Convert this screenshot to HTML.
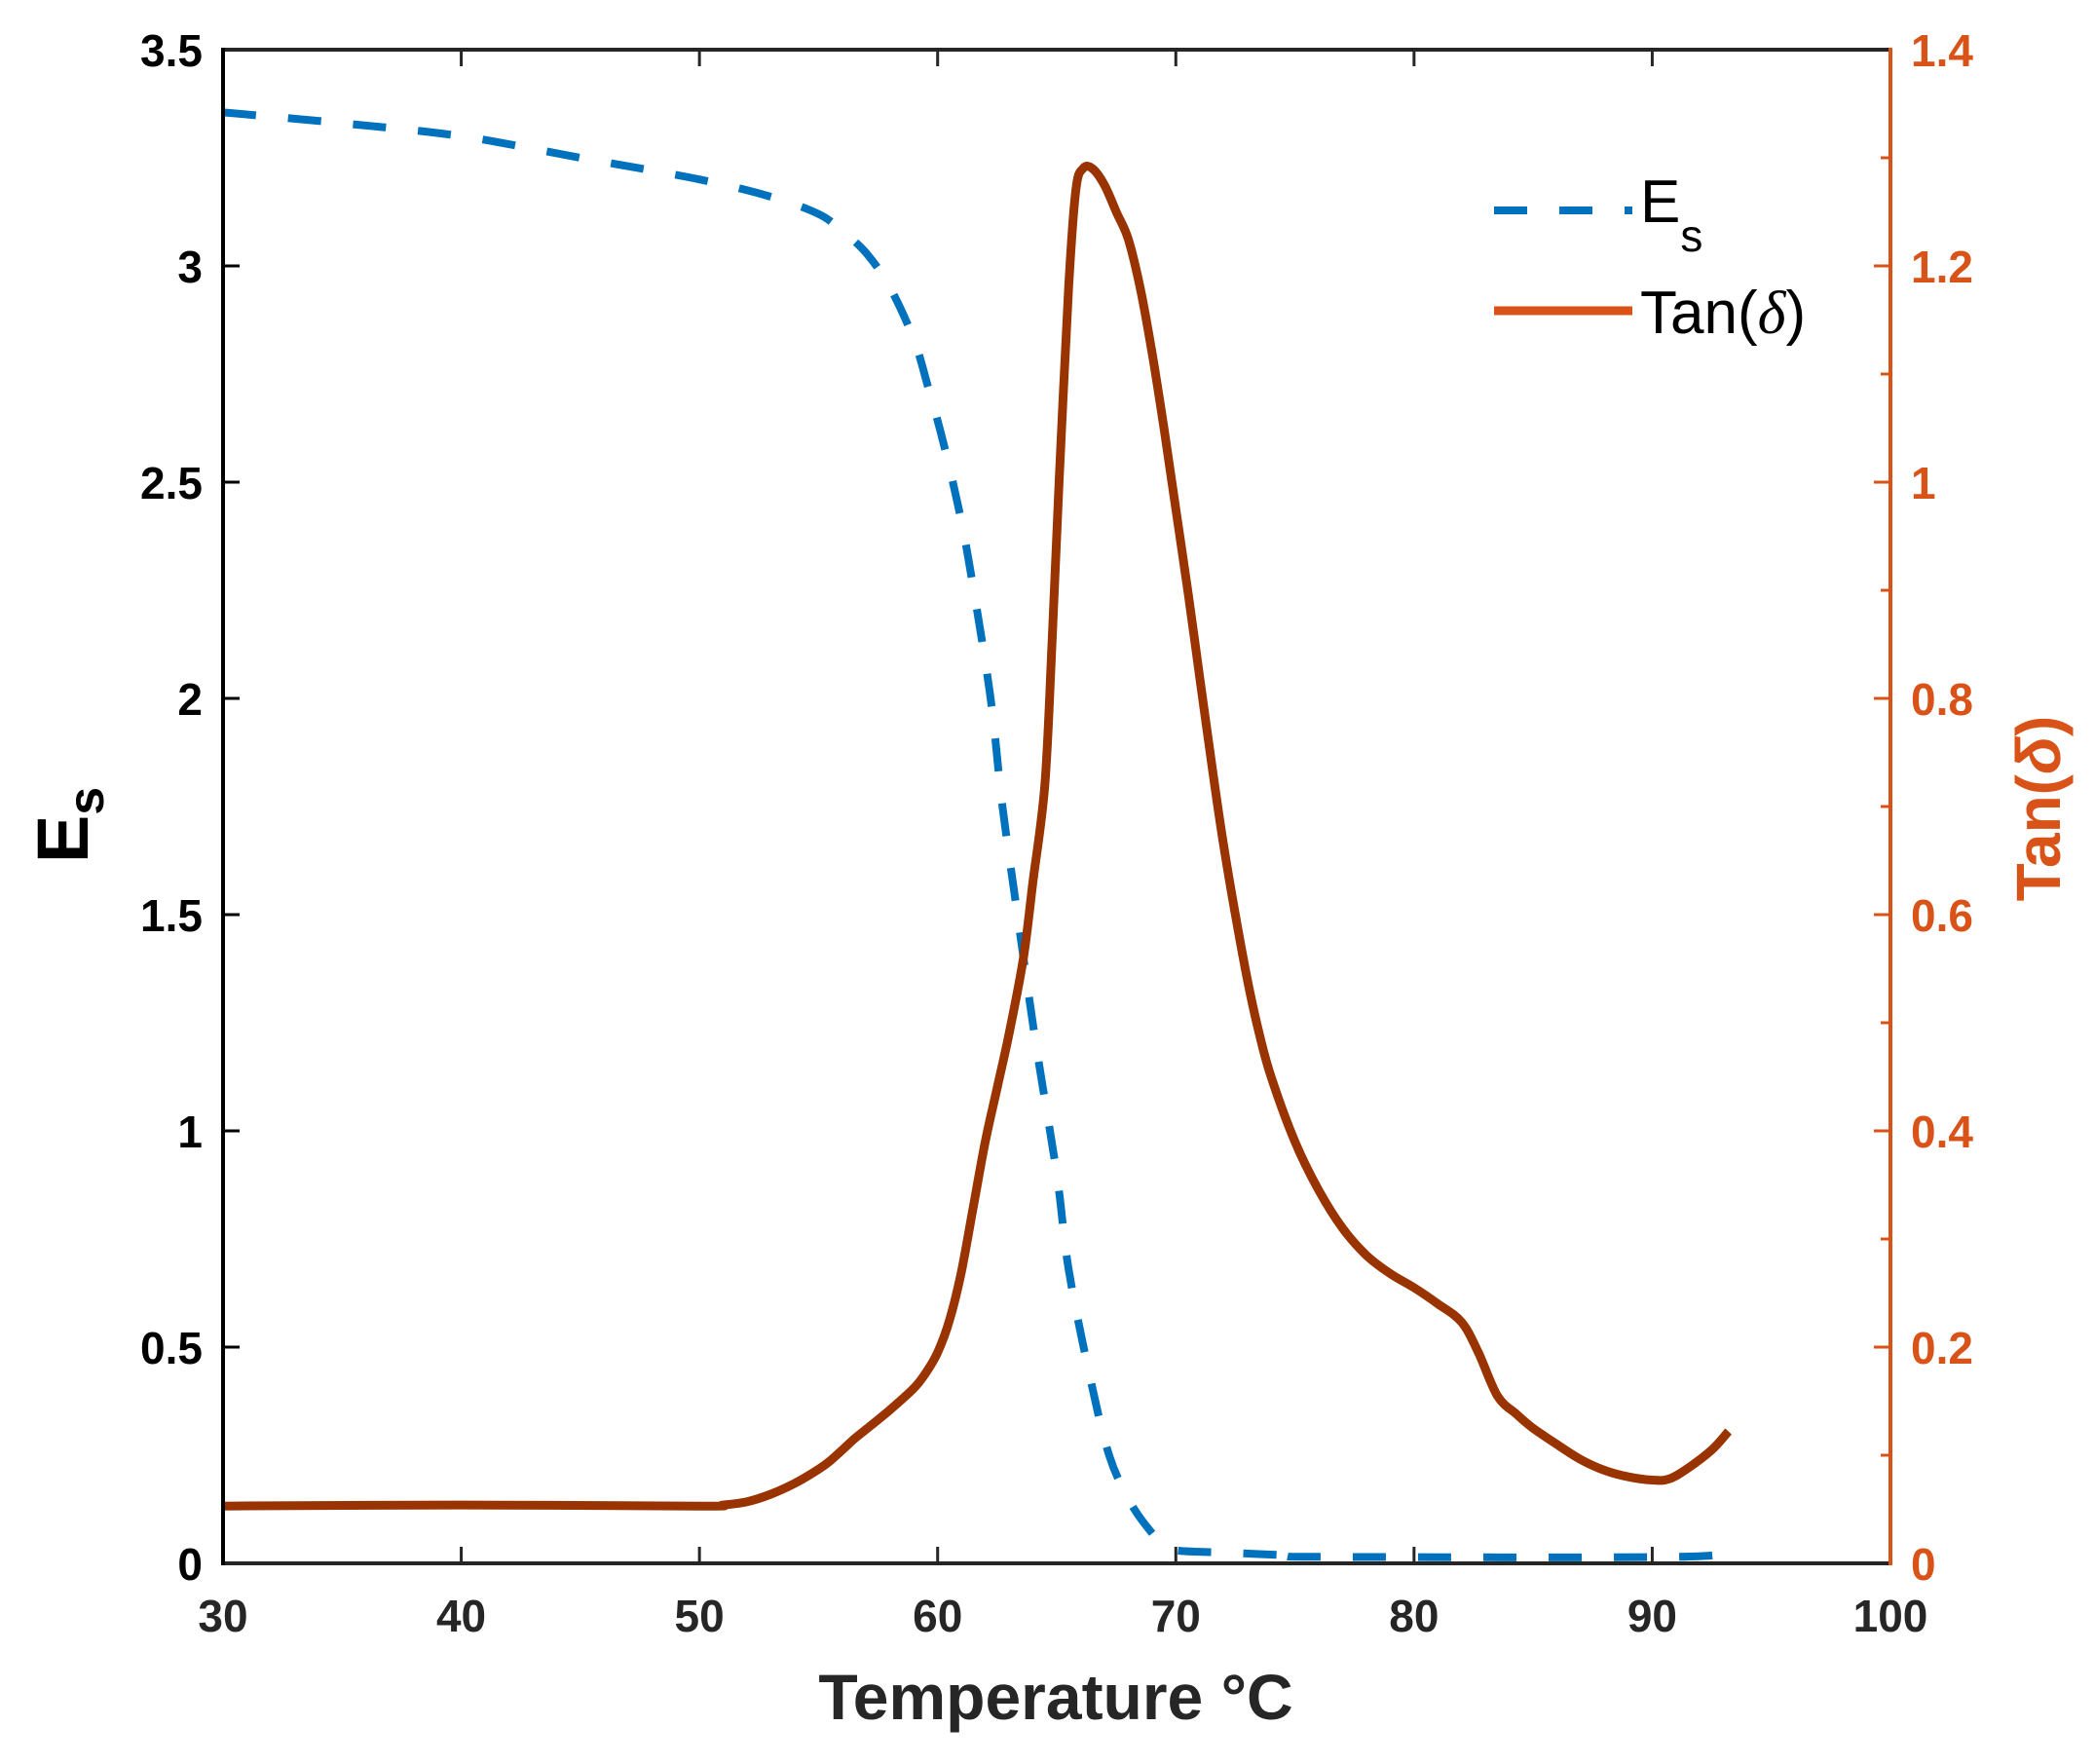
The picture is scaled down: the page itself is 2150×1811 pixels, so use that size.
<!DOCTYPE html>
<html><head><meta charset="utf-8"><style>
html,body{margin:0;padding:0;background:#fff;}
svg{display:block;}
text{font-family:"Liberation Sans",Arial,sans-serif;}
</style></head><body>
<svg id="s" width="2150" height="1811" viewBox="0 0 2150 1811" xmlns="http://www.w3.org/2000/svg">
<rect width="2150" height="1811" fill="#fff"/>
<g id="ticks"></g>
<path id="es" fill="none" stroke="#0072BD" stroke-width="8" stroke-dasharray="34 33"/>
<path id="tan" fill="none" stroke="#993300" stroke-width="9" stroke-linejoin="round"/>
<line x1="229" y1="51" x2="1941" y2="51" stroke="#262626" stroke-width="4"/>
<line x1="229" y1="1605" x2="1941" y2="1605" stroke="#262626" stroke-width="4"/>
<line x1="229" y1="49" x2="229" y2="1607" stroke="#000" stroke-width="4"/>
<line x1="1941" y1="49" x2="1941" y2="1607" stroke="#D95319" stroke-width="4"/>
<g id="labels" font-weight="bold" font-size="46"></g>
<text x="90" y="847" font-size="74" font-weight="bold" fill="#000" transform="rotate(-90 90 847)" text-anchor="middle">E<tspan font-size="52" dy="16">s</tspan></text>
<text x="1084" y="1765" font-size="66" font-weight="bold" fill="#262626" text-anchor="middle">Temperature °C</text>
<text x="2115" y="830" font-size="64" font-weight="bold" fill="#D95319" text-anchor="middle" transform="rotate(-90 2115 830)">Tan(<tspan font-style="italic">δ</tspan>)</text>
<line x1="1534" y1="216" x2="1676" y2="216" stroke="#0072BD" stroke-width="8" stroke-dasharray="34 33"/>
<line x1="1534" y1="319" x2="1676" y2="319" stroke="#D95319" stroke-width="9"/>
<text x="1684" y="228" font-size="62" fill="#000">E<tspan font-size="46" dy="30">s</tspan></text>
<text x="1684" y="342" font-size="62" fill="#000">Tan(<tspan font-style="italic" font-family="Liberation Serif,serif">δ</tspan>)</text>
</svg>
<script>
var X=t=>229+(t-30)*24.457, YL=v=>1605-v*444, YR=v=>1605-v*1110;
var es=[[30,3.355],[35,3.33],[40,3.3],[45,3.25],[50,3.2],[53,3.16],[55,3.12],[56,3.08],[57,3.03],[58,2.95],[59,2.83],[59.6,2.72],[60.2,2.6],[60.8,2.46],[61.3,2.32],[62.2,2.01],[62.7,1.76],[63.3,1.52],[64.1,1.21],[65,0.9],[65.5,0.68],[66.4,0.43],[67.2,0.25],[68.1,0.14],[69,0.07],[69.5,0.045],[70,0.03],[72,0.025],[75,0.018],[76,0.015],[91,0.015],[93,0.03]];
var tan=[[30,0.053],[40,0.054],[50,0.053],[51,0.054],[52,0.057],[53,0.064],[54,0.074],[55,0.087],[55.5,0.095],[56,0.105],[56.5,0.115],[57,0.124],[58,0.142],[59,0.162],[59.5,0.176],[60,0.195],[60.5,0.225],[61,0.27],[61.5,0.33],[62,0.39],[62.5,0.44],[63,0.49],[63.6,0.56],[64,0.63],[64.5,0.72],[64.8,0.85],[65.1,1.0],[65.5,1.18],[65.8,1.27],[66.1,1.29],[66.5,1.29],[67,1.275],[67.5,1.25],[68,1.225],[68.5,1.18],[69,1.12],[69.5,1.05],[70,0.975],[70.5,0.9],[71,0.82],[71.5,0.74],[72,0.665],[72.5,0.6],[73,0.54],[73.5,0.49],[74,0.45],[75,0.39],[76,0.345],[77,0.31],[78,0.285],[79,0.268],[80,0.255],[81,0.24],[82,0.223],[82.7,0.195],[83.5,0.155],[84.3,0.138],[85,0.125],[86,0.11],[87,0.096],[88,0.086],[89,0.08],[90,0.077],[90.7,0.078],[91.5,0.088],[92.5,0.105],[93.2,0.122]];
function path(d,Y){var p=d.map(q=>[X(q[0]),Y(q[1])]);var s='M'+p[0][0].toFixed(1)+' '+p[0][1].toFixed(1);
for(var i=0;i<p.length-1;i++){var p0=p[i-1]||p[i],p1=p[i],p2=p[i+1],p3=p[i+2]||p2;
var c1=[p1[0]+(p2[0]-p0[0])/6,p1[1]+(p2[1]-p0[1])/6],c2=[p2[0]-(p3[0]-p1[0])/6,p2[1]-(p3[1]-p1[1])/6];
s+=' C'+c1.map(v=>v.toFixed(1)).join(' ')+' '+c2.map(v=>v.toFixed(1)).join(' ')+' '+p2[0].toFixed(1)+' '+p2[1].toFixed(1);}
return s;}
document.getElementById('es').setAttribute('d',path(es,YL));
document.getElementById('tan').setAttribute('d',path(tan,YR));
var g='',L='';
for(var t=30;t<=100;t+=10){var x=X(t);g+=`<line x1="${x}" y1="1605" x2="${x}" y2="1588" stroke="#262626" stroke-width="3"/><line x1="${x}" y1="51" x2="${x}" y2="68" stroke="#262626" stroke-width="3"/>`;L+=`<text x="${x}" y="1675" text-anchor="middle" fill="#262626">${t}</text>`;}
for(var v=0;v<=3.5001;v+=0.5){var y=YL(v);g+=`<line x1="229" y1="${y}" x2="246" y2="${y}" stroke="#000" stroke-width="3"/>`;L+=`<text x="208" y="${y+17}" text-anchor="end" fill="#000">${+v.toFixed(1)}</text>`;}
for(var i=0;i<=14;i++){var y=YR(i/10);var len=i%2?10:17;g+=`<line x1="${1941-len}" y1="${y}" x2="1941" y2="${y}" stroke="#D95319" stroke-width="3"/>`;if(i%2==0)L+=`<text x="1962" y="${y+17}" fill="#D95319">${+(i/10).toFixed(1)}</text>`;}
document.getElementById('ticks').innerHTML=g;document.getElementById('labels').innerHTML=L;
</script>
</body></html>
